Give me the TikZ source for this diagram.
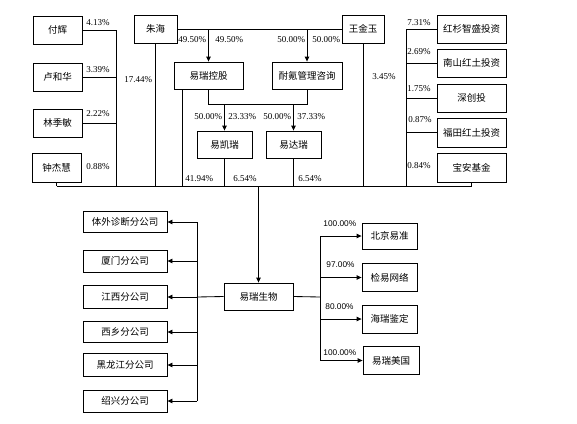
\documentclass[tikz,border=0pt]{standalone}
\usepackage{fontspec}
\setmainfont{Liberation Serif}
\newfontfamily\cjk{Noto Sans CJK SC}
\newfontfamily\pctsans{Liberation Sans}
\usetikzlibrary{arrows.meta}

\begin{document}
\begin{tikzpicture}[x=1pt,y=-1pt,line width=0.85pt,
    entity/.style={draw,inner sep=0pt,minimum width=49pt,minimum height=28pt,
        font={\cjk\fontsize{9.5}{10}\selectfont}},
    share/.style={anchor=west,inner sep=0pt,font={\fontsize{9}{10}\selectfont}},
    subshare/.style={anchor=west,inner sep=0pt,font={\pctsans\fontsize{8.3}{10}\selectfont}},
    hold/.style={-{Triangle[length=5pt,width=4.5pt]}},
    ]
        \useasboundingbox (0,0) rectangle (577,423);
        % Shareholders, left column
        \node[entity] (fuhui) at (57.5,30) {付辉};
        \node[entity] (luhehua) at (57.5,77) {卢和华};
        \node[entity] (linjimin) at (57.5,123) {林季敏};
        \node[entity,minimum height=29pt] (zhongjiehui) at (56.5,167.5) {钟杰慧};
        % Shareholders, top row
        \node[entity,minimum width=43pt] (zhuhai) at (155.5,29) {朱海};
        \node[entity,minimum width=42pt] (wangjinyu) at (363,29) {王金玉};
        \node[entity,minimum width=69pt,minimum height=27pt] (yrkg) at (208.5,75.5) {易瑞控股};
        \node[entity,minimum width=70pt,minimum height=27pt] (naike) at (307,75.5) {耐氪管理咨询};
        \node[entity,minimum width=55pt,minimum height=27pt] (ykr) at (224.5,144.5) {易凯瑞};
        \node[entity,minimum width=55pt,minimum height=27pt] (ydr) at (293.5,144.5) {易达瑞};
        % Shareholders, right column
        \node[entity,minimum width=69pt] (hongshan) at (471.5,29) {红杉智盛投资};
        \node[entity,minimum width=69pt] (nanshan) at (471.5,63) {南山红土投资};
        \node[entity,minimum width=69pt] (shenchuang) at (471.5,98) {深创投};
        \node[entity,minimum width=69pt,minimum height=29pt] (futian) at (471.5,132.5) {福田红土投资};
        \node[entity,minimum width=69pt,minimum height=29pt] (baoan) at (471.5,167.5) {宝安基金};
        % Company
        \node[entity,minimum width=69pt,minimum height=27pt] (yrsw) at (258.5,296.5) {易瑞生物};
        % Branches
        \node[entity,minimum width=84pt,minimum height=21pt] (tiwai) at (125,222) {体外诊断分公司};
        \node[entity,minimum width=84pt,minimum height=22pt] (xiamen) at (125,261) {厦门分公司};
        \node[entity,minimum width=84pt,minimum height=23pt] (jiangxi) at (125,297) {江西分公司};
        \node[entity,minimum width=84pt,minimum height=21pt] (xixiang) at (125,332) {西乡分公司};
        \node[entity,minimum width=84pt,minimum height=23pt] (heilongjiang) at (125,365) {黑龙江分公司};
        \node[entity,minimum width=84pt,minimum height=22pt] (shaoxing) at (125,401) {绍兴分公司};
        % Subsidiaries
        \node[entity,minimum width=55pt,minimum height=26pt] (beijing) at (389.5,236) {北京易准};
        \node[entity,minimum width=55pt] (jianyi) at (389.5,277.5) {检易网络};
        \node[entity,minimum width=55pt] (hairui) at (389.5,319) {海瑞鉴定};
        \node[entity,minimum width=56pt] (meiguo) at (391,360.5) {易瑞美国};

        % Bus above the company
        \coordinate (bus) at (0,186);
        \draw (zhongjiehui.south |- bus) -- (baoan.south |- bus);
        \draw (zhongjiehui.south) -- (zhongjiehui.south |- bus);
        \draw (baoan.south) -- (baoan.south |- bus);
        % Left column
        \coordinate (lcol) at (116,30);
        \draw (fuhui.east) -- (lcol) -- (lcol |- bus);
        \draw (luhehua.east) -- (luhehua.east -| lcol);
        \draw (linjimin.east) -- (linjimin.east -| lcol);
        % Top row
        \draw (zhuhai.south) -- (zhuhai.south |- bus);
        \draw (zhuhai.east) -- (wangjinyu.west);
        \draw[hold] (yrkg.north |- zhuhai.east) -- (yrkg.north);
        \draw[hold] (naike.north |- zhuhai.east) -- (naike.north);
        \draw (wangjinyu.south) -- (wangjinyu.south |- bus);
        \draw ([xshift=9pt]yrkg.south west) -- ([xshift=9pt]yrkg.south west |- bus);
        \coordinate (mid) at (0,104);
        \draw (yrkg.south) -- (yrkg.south |- mid) -- (naike.south |- mid) -- (naike.south);
        \draw[hold] (ykr.north |- mid) -- (ykr.north);
        \draw[hold] (ydr.north |- mid) -- (ydr.north);
        \draw (ykr.south) -- (ykr.south |- bus);
        \draw (ydr.south) -- (ydr.south |- bus);
        % Right column
        \coordinate (rcol) at (406,29);
        \draw (hongshan.west) -- (rcol) -- (rcol |- bus);
        \draw (nanshan.west) -- (nanshan.west -| rcol);
        \draw (shenchuang.west) -- (shenchuang.west -| rcol);
        \draw (futian.west) -- (futian.west -| rcol);
        \draw[hold] (yrsw.north |- bus) -- (yrsw.north);

        % Branches
        \coordinate (bcol) at (197,297);
        \draw (yrsw.west) -- (bcol);
        \draw (bcol |- tiwai.east) -- (bcol |- shaoxing.east);
        \foreach \b in {tiwai,xiamen,jiangxi,xixiang,heilongjiang,shaoxing}
            \draw[hold] (bcol |- \b.east) -- (\b.east);
        % Subsidiaries
        \coordinate (scol) at (320,297);
        \draw (yrsw.east) -- (scol);
        \draw (scol |- beijing.west) -- (scol |- meiguo.west);
        \foreach \s in {beijing,jianyi,hairui,meiguo}
            \draw[hold] (scol |- \s.west) -- (\s.west);

        % Shares
        \node[share] (p1) at (86,23) {4.13\%};
        \node[share] (p2) at (86,70) {3.39\%};
        \node[share] (p3) at (86,114) {2.22\%};
        \node[share] (p4) at (86,167) {0.88\%};
        \node[share] (p5) at (124,80) {17.44\%};
        \node[share] (p6) at (178,40) {49.50\%};
        \node[share] (p7) at (215,40) {49.50\%};
        \node[share] (p8) at (277,40) {50.00\%};
        \node[share] (p9) at (312,40) {50.00\%};
        \node[share] (p10) at (194,117) {50.00\%};
        \node[share] (p11) at (228,117) {23.33\%};
        \node[share] (p12) at (263,117) {50.00\%};
        \node[share] (p13) at (297,117) {37.33\%};
        \node[share] (p14) at (185,179) {41.94\%};
        \node[share] (p15) at (233,179) {6.54\%};
        \node[share] (p16) at (298,179) {6.54\%};
        \node[share] (p17) at (372,77) {3.45\%};
        \node[share] (p18) at (407,23) {7.31\%};
        \node[share] (p19) at (407,52) {2.69\%};
        \node[share] (p20) at (407,89) {1.75\%};
        \node[share] (p21) at (408,120) {0.87\%};
        \node[share] (p22) at (407,166) {0.84\%};
        \node[subshare] (q1) at (323,224) {100.00\%};
        \node[subshare] (q2) at (326,265) {97.00\%};
        \node[subshare] (q3) at (325,307) {80.00\%};
        \node[subshare] (q4) at (323,353) {100.00\%};
    \end{tikzpicture}
\end{document}
